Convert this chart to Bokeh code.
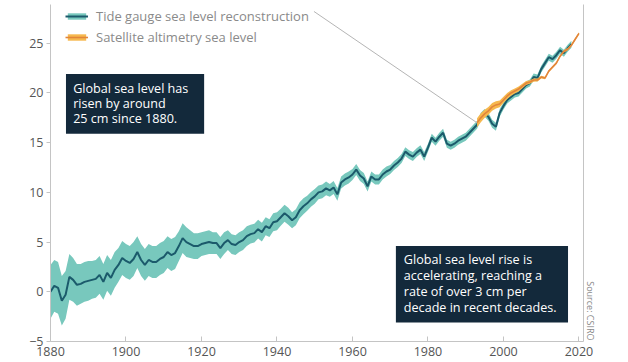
from bokeh.plotting import figure
from bokeh.models import (Range1d, LinearAxis, FixedTicker, Legend, LegendItem,
                          BoxAnnotation, Label, ColumnDataSource, Title)
from bokeh.embed import file_html
from bokeh.resources import INLINE

# ---------------- data ----------------
tg_years = list(range(1880, 2019))
tg_values = [
    0.0, 0.6, 0.4, -0.9, -0.3, 1.5, 1.2, 0.7, 0.8, 1.0,
    1.1, 1.2, 1.3, 1.7, 1.0, 1.9, 1.4, 2.2, 2.7, 3.4,
    3.1, 2.9, 3.3, 4.0, 3.2, 2.7, 3.2, 3.0, 3.0, 3.3,
    3.5, 4.0, 3.7, 3.9, 4.6, 5.4, 5.0, 4.8, 4.6, 4.6,
    4.8, 4.9, 5.0, 4.9, 4.9, 4.4, 4.9, 5.2, 4.8, 4.7,
    5.0, 5.2, 5.6, 5.8, 5.9, 6.3, 6.0, 6.6, 6.4, 7.0,
    7.1, 7.5, 7.9, 7.6, 7.2, 7.5, 8.2, 8.6, 8.9, 9.3,
    9.6, 10.0, 10.1, 10.4, 10.2, 10.5, 9.8, 11.0, 11.3, 11.5,
    11.8, 12.3, 11.7, 11.4, 10.6, 11.6, 11.3, 11.3, 11.8, 12.1,
    12.3, 12.7, 13.0, 13.4, 14.1, 13.8, 13.6, 14.0, 14.3, 13.6,
    14.5, 15.5, 15.1, 15.6, 16.0, 14.9, 14.7, 14.9, 15.2, 15.4,
    15.6, 16.0, 16.4, 16.8, 17.6, 18.0, 17.6, 16.9, 16.6, 18.0,
    18.7, 19.3, 19.6, 19.9, 20.0, 20.4, 20.8, 21.0, 21.6, 21.5,
    22.4, 23.0, 23.6, 23.4, 23.8, 24.3, 24.0, 24.5, 24.9,
]
tg_err = [
    2.7, 2.6, 2.6, 2.5, 2.4, 2.3, 2.2, 2.1, 2.0, 2.0,
    2.0, 1.9, 1.9, 1.9, 1.8, 1.8, 1.8, 1.8, 1.7, 1.7,
    1.7, 1.7, 1.7, 1.6, 1.6, 1.6, 1.6, 1.6, 1.6, 1.6,
    1.6, 1.6, 1.6, 1.6, 1.5, 1.5, 1.5, 1.4, 1.3, 1.3,
    1.2, 1.2, 1.2, 1.1, 1.1, 1.1, 1.1, 1.0, 1.0, 1.0,
    1.0, 1.0, 1.0, 0.95, 0.95, 0.95, 0.95, 0.9, 0.9, 0.9,
    0.9, 0.85, 0.85, 0.85, 0.8, 0.8, 0.8, 0.8, 0.75, 0.75,
    0.75, 0.7, 0.7, 0.7, 0.65, 0.65, 0.65, 0.6, 0.6, 0.6,
    0.55, 0.55, 0.55, 0.55, 0.5, 0.5, 0.5, 0.5, 0.5, 0.5,
    0.45, 0.45, 0.45, 0.45, 0.45, 0.45, 0.45, 0.45, 0.45, 0.45,
    0.4, 0.4, 0.4, 0.4, 0.4, 0.4, 0.4, 0.4, 0.4, 0.4,
    0.4, 0.4, 0.4, 0.4, 0.4, 0.4, 0.4, 0.4, 0.4, 0.4,
    0.35, 0.35, 0.35, 0.35, 0.35, 0.35, 0.35, 0.35, 0.35, 0.35,
    0.35, 0.35, 0.35, 0.35, 0.35, 0.35, 0.35, 0.35, 0.35,
]

sat_years = list(range(1993, 2021))
sat_values = [
    17.0, 17.5, 17.9, 18.2, 18.6, 18.8, 18.9, 19.3, 19.7, 20.0,
    20.2, 20.4, 20.7, 21.0, 21.1, 21.3, 21.3, 21.6, 21.5, 22.2,
    22.6, 23.0, 23.7, 24.2, 24.4, 24.8, 25.4, 26.0,
]
sat_err = [
    0.45, 0.45, 0.42, 0.4, 0.38, 0.36, 0.34, 0.32, 0.3, 0.28,
    0.26, 0.24, 0.22, 0.2, 0.18, 0.16, 0.15, 0.14, 0.13, 0.12,
    0.12, 0.12, 0.12, 0.12, 0.12, 0.12, 0.12, 0.12,
]

x_ticks = [1880, 1900, 1920, 1940, 1960, 1980, 2000, 2020]
y_ticks = [-5, 0, 5, 10, 15, 20, 25]

legend_labels = ["Tide gauge sea level reconstruction", "Satellite altimetry sea level"]
note1 = ["Global sea level has", "risen by around", "25 cm since 1880."]
note2 = ["Global sea level rise is", "accelerating, reaching a",
         "rate of over 3 cm per", "decade in recent decades."]
source_text = "Source: CSIRO"

# ---------------- styles ----------------
FONT = "Open Sans"
TEAL_BAND = "#78c8bd"
TEAL_LINE = "#1b5a6b"
ORANGE_BAND = "#f6b84e"
ORANGE_LINE = "#e2853a"
BOX = "#13293b"
AXIS = "#c4c4c4"
TICK_TEXT = "#555555"

tg = ColumnDataSource(dict(
    x=tg_years, y=tg_values,
    lo=[v - e for v, e in zip(tg_values, tg_err)],
    hi=[v + e for v, e in zip(tg_values, tg_err)],
))
sat = ColumnDataSource(dict(
    x=sat_years, y=sat_values,
    lo=[v - e for v, e in zip(sat_values, sat_err)],
    hi=[v + e for v, e in zip(sat_values, sat_err)],
))

p = figure(width=628, height=362, output_backend="svg", toolbar_location=None,
           x_range=Range1d(1880, 2021.2), y_range=Range1d(-5, 28.9),
           min_border_left=50, min_border_right=45, min_border_top=4,
           min_border_bottom=21)
p.outline_line_color = None
p.xgrid.visible = False
p.ygrid.visible = False
p.background_fill_color = "white"
p.border_fill_color = "white"

# axes
for ax in (p.xaxis[0], p.yaxis[0]):
    ax.axis_line_color = AXIS
    ax.major_tick_line_color = AXIS
    ax.minor_tick_line_color = None
    ax.major_label_text_color = TICK_TEXT
    ax.major_label_text_font = FONT
    ax.major_label_text_font_size = "12.5px"
p.xaxis.ticker = FixedTicker(ticks=x_ticks)
p.yaxis.ticker = FixedTicker(ticks=y_ticks)
p.xaxis.major_tick_in = 5
p.xaxis.major_tick_out = 0
p.xaxis.major_label_standoff = 5
p.yaxis.major_tick_in = 0
p.yaxis.major_tick_out = 4
p.yaxis.major_label_standoff = 3
p.yaxis.major_label_overrides = {t: (str(t).replace("-", "\u2212")) for t in y_ticks}

right = LinearAxis(ticker=FixedTicker(ticks=[]), axis_line_color=AXIS,
                   major_label_text_font_size="0px", major_tick_line_color=None,
                   minor_tick_line_color=None, major_label_standoff=0,
                   major_tick_out=0, major_tick_in=0)
p.add_layout(right, "right")

src_title = Title(text=source_text, align="right", text_font=FONT,
                  text_font_size="9px", text_color="#8a8a8a",
                  text_font_style="normal", offset=1, standoff=0)
p.add_layout(src_title, "right")

# data marks
tb = p.varea(x="x", y1="lo", y2="hi", source=tg, fill_color=TEAL_BAND, fill_alpha=1.0)
tl = p.line(x="x", y="y", source=tg, line_color=TEAL_LINE, line_width=2)
sb = p.varea(x="x", y1="lo", y2="hi", source=sat, fill_color=ORANGE_BAND, fill_alpha=1.0)
sl = p.line(x="x", y="y", source=sat, line_color=ORANGE_LINE, line_width=1.6)

# leader line from legend to satellite start
leader_start = (1949.8, 28.2)
p.line(x=[leader_start[0], sat_years[0]], y=[leader_start[1], sat_values[0]],
       line_color="#b5b5b5", line_width=1)

# legend
legend = Legend(items=[LegendItem(label=legend_labels[0], renderers=[tb, tl]),
                       LegendItem(label=legend_labels[1], renderers=[sb, sl])],
                location=(15, 295), padding=0, margin=0, spacing=3,
                glyph_height=8, glyph_width=23, label_standoff=8, label_height=15,
                label_text_font=FONT, label_text_font_size="13px",
                label_text_color="#8a8a8a", background_fill_alpha=0,
                border_line_color=None)
p.add_layout(legend)

# annotation boxes
p.add_layout(BoxAnnotation(left=1884.1, right=1920.7, top=21.9, bottom=15.9,
                           fill_color=BOX, fill_alpha=1.0, line_color=None))
p.add_layout(BoxAnnotation(left=1971.5, right=2017.1, top=4.6, bottom=-3.1,
                           fill_color=BOX, fill_alpha=1.0, line_color=None))

for i, line in enumerate(note1):
    p.add_layout(Label(x=1886.0, y=20.5 - i * 1.55, text=line, text_color="white",
                       text_font=FONT, text_font_size="12.6px", text_baseline="middle"))
for i, line in enumerate(note2):
    p.add_layout(Label(x=1973.6, y=3.2 - i * 1.6, text=line, text_color="white",
                       text_font=FONT, text_font_size="12.6px", text_baseline="middle"))

open("out.html", "w").write(file_html(p, INLINE))
